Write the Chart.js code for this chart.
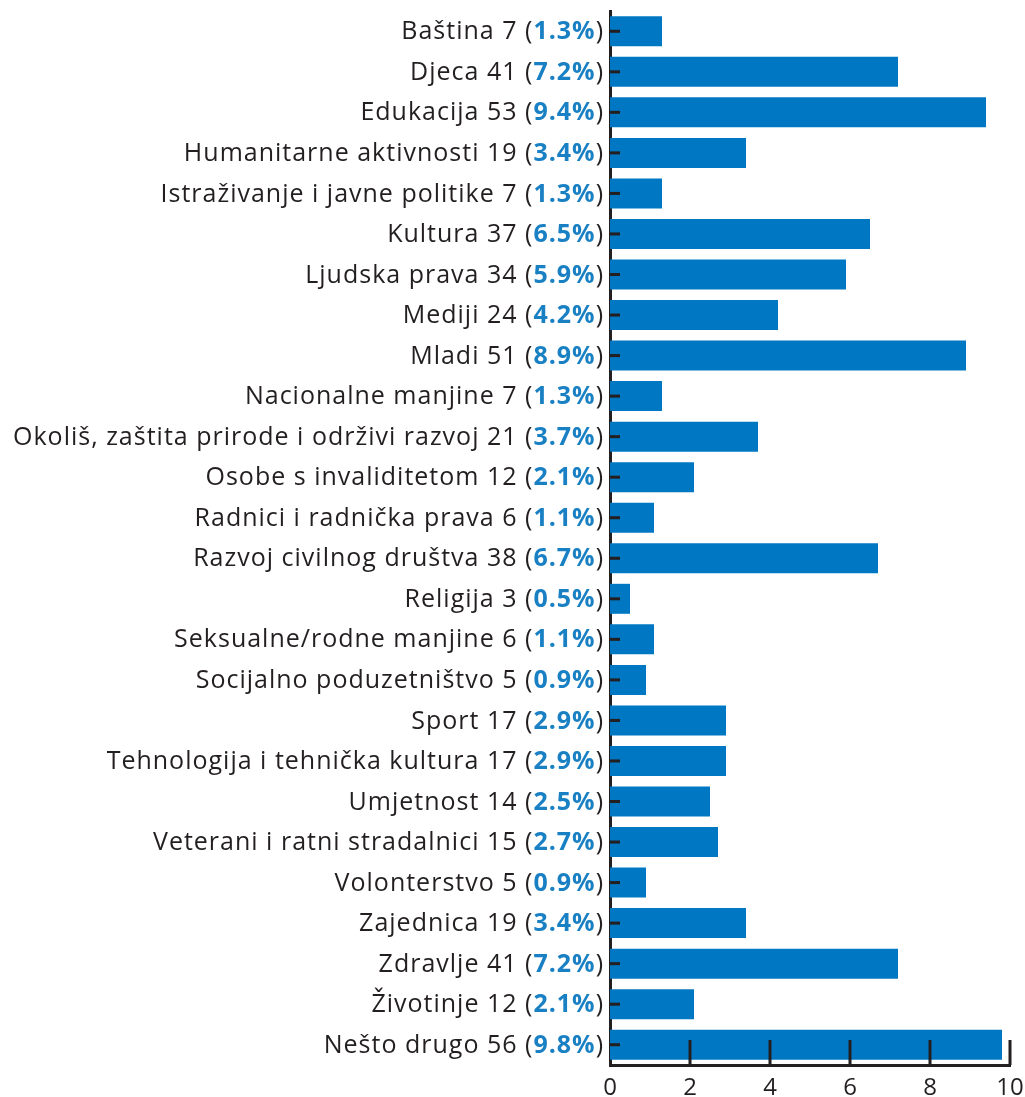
<!DOCTYPE html>
<html>
<head>
<meta charset="utf-8">
<script src="https://cdn.jsdelivr.net/npm/chart.js@4.4.1/dist/chart.umd.min.js"></script>
<style>
  html, body { margin: 0; padding: 0; background: #fff; }
  #wrap { width: 1025px; height: 1097px; }
</style>
</head>
<body>
<div id="wrap"><canvas id="chart"></canvas></div>
<script>
const categories = [
    'Baština', 'Djeca', 'Edukacija', 'Humanitarne aktivnosti', 'Istraživanje i javne politike',
    'Kultura', 'Ljudska prava', 'Mediji', 'Mladi', 'Nacionalne manjine',
    'Okoliš, zaštita prirode i održivi razvoj', 'Osobe s invaliditetom', 'Radnici i radnička prava',
    'Razvoj civilnog društva', 'Religija', 'Seksualne/rodne manjine', 'Socijalno poduzetništvo',
    'Sport', 'Tehnologija i tehnička kultura', 'Umjetnost', 'Veterani i ratni stradalnici',
    'Volonterstvo', 'Zajednica', 'Zdravlje', 'Životinje', 'Nešto drugo'
];
const counts = [7, 41, 53, 19, 7, 37, 34, 24, 51, 7, 21, 12, 6, 38, 3, 6, 5, 17, 17, 14, 15, 5, 19, 41, 12, 56];
const percents = [1.3, 7.2, 9.4, 3.4, 1.3, 6.5, 5.9, 4.2, 8.9, 1.3, 3.7, 2.1, 1.1, 6.7, 0.5, 1.1, 0.9, 2.9, 2.9, 2.5, 2.7, 0.9, 3.4, 7.2, 2.1, 9.8];
const xTicks = [0, 2, 4, 6, 8, 10];

const FONT = '"Open Sans", Lato, sans-serif';
const AXIS = '#231f20';

// labels with the percentage in bold blue, drawn by hand since ticks are single-colour
const labelPlugin = {
    id: 'mixedLabels',
    afterDraw(chart) {
        const ctx = chart.ctx;
        const y = chart.scales.y;
        const x = chart.scales.x;
        const area = chart.chartArea;
        ctx.save();
        ctx.textBaseline = 'middle';
        ctx.letterSpacing = '1px';
        categories.forEach((name, i) => {
            const py = y.getPixelForValue(i);
            const parts = [
                { t: name + ' ' + counts[i] + ' (', f: '400 25px ' + FONT, c: '#231f20' },
                { t: percents[i].toFixed(1) + '%', f: '700 25px ' + FONT, c: '#1a80c4' },
                { t: ')', f: '400 25px ' + FONT, c: '#231f20' }
            ];
            let px = area.left - 6;
            for (let k = parts.length - 1; k >= 0; k--) {
                ctx.font = parts[k].f;
                const w = ctx.measureText(parts[k].t).width;
                px -= w;
                ctx.fillStyle = parts[k].c;
                ctx.fillText(parts[k].t, px, py + 1);
            }
            // small inward tick on the category axis
            ctx.strokeStyle = AXIS;
            ctx.lineWidth = 3;
            ctx.beginPath();
            ctx.moveTo(area.left, py);
            ctx.lineTo(area.left + 10, py);
            ctx.stroke();
        });
        // inward ticks on the value axis
        xTicks.slice(1).forEach(v => {
            const px = x.getPixelForValue(v);
            ctx.beginPath();
            ctx.moveTo(px, area.bottom);
            ctx.lineTo(px, area.bottom - 25);
            ctx.stroke();
        });
        ctx.restore();
    }
};

new Chart(document.getElementById('chart'), {
    type: 'bar',
    data: {
        labels: categories,
        datasets: [{ data: percents, backgroundColor: '#0077c3', barPercentage: 0.74, categoryPercentage: 1 }]
    },
    options: {
        indexAxis: 'y',
        responsive: true,
        maintainAspectRatio: false,
        animation: false,
        layout: { padding: { top: 11, right: 15, left: 0, bottom: 0 } },
        plugins: { legend: { display: false }, tooltip: { enabled: false } },
        scales: {
            x: {
                min: 0, max: 10,
                afterBuildTicks: s => { s.ticks = xTicks.map(v => ({ value: v })); },
                afterFit: s => { s.height = 32; s.paddingLeft = 0; s.paddingRight = 0; },
                grid: { display: false, drawTicks: false },
                border: { display: true, color: AXIS, width: 3 },
                ticks: { color: '#231f20', font: { family: FONT, size: 24 }, padding: 9, maxRotation: 0 }
            },
            y: {
                afterFit: s => { s.width = 610; },
                grid: { display: false, drawTicks: false },
                border: { display: true, color: AXIS, width: 3 },
                ticks: { display: false }
            }
        }
    },
    plugins: [labelPlugin]
});
</script>
</body>
</html>
